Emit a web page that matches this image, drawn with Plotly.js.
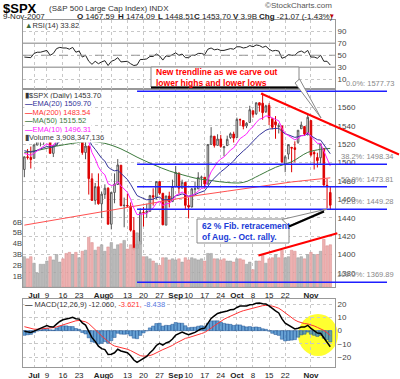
<!DOCTYPE html>
<html>
<head>
<meta charset="utf-8">
<script src="https://cdn.plot.ly/plotly-3.0.1.min.js"></script>
<style>
html,body{margin:0;padding:0;background:#fff;overflow:hidden;}
#chart{width:400px;height:379px;}
</style>
</head>
<body>
<div id="chart"></div>
<script>
// ---------------- DATA ----------------
const dates = [
'2007-06-27','2007-06-28','2007-06-29',
'2007-07-02','2007-07-03','2007-07-05','2007-07-06','2007-07-09','2007-07-10','2007-07-11','2007-07-12','2007-07-13','2007-07-16','2007-07-17','2007-07-18','2007-07-19','2007-07-20','2007-07-23','2007-07-24','2007-07-25','2007-07-26','2007-07-27','2007-07-30','2007-07-31',
'2007-08-01','2007-08-02','2007-08-03','2007-08-06','2007-08-07','2007-08-08','2007-08-09','2007-08-10','2007-08-13','2007-08-14','2007-08-15','2007-08-16','2007-08-17','2007-08-20','2007-08-21','2007-08-22','2007-08-23','2007-08-24','2007-08-27','2007-08-28','2007-08-29','2007-08-30','2007-08-31',
'2007-09-04','2007-09-05','2007-09-06','2007-09-07','2007-09-10','2007-09-11','2007-09-12','2007-09-13','2007-09-14','2007-09-17','2007-09-18','2007-09-19','2007-09-20','2007-09-21','2007-09-24','2007-09-25','2007-09-26','2007-09-27','2007-09-28',
'2007-10-01','2007-10-02','2007-10-03','2007-10-04','2007-10-05','2007-10-08','2007-10-09','2007-10-10','2007-10-11','2007-10-12','2007-10-15','2007-10-16','2007-10-17','2007-10-18','2007-10-19','2007-10-22','2007-10-23','2007-10-24','2007-10-25','2007-10-26','2007-10-29','2007-10-30','2007-10-31',
'2007-11-01','2007-11-02','2007-11-05','2007-11-06','2007-11-07','2007-11-08','2007-11-09'];

const open = [1492.6,1506.3,1505.7,
1504.7,1519.1,1524.9,1524.9,1530.4,1531.9,1510.1,1518.7,1547.7,1552.5,1549.5,1549.2,1546.1,1553.2,1534.1,1541.6,1511.0,1518.1,1482.4,1458.9,1473.9,
1455.2,1465.5,1472.2,1433.0,1467.6,1476.2,1497.2,1453.1,1453.4,1452.8,1426.2,1406.6,1411.3,1445.9,1445.6,1447.0,1464.1,1462.3,1479.4,1466.7,1432.0,1463.7,1457.6,
1474.0,1488.8,1472.3,1478.6,1453.5,1451.7,1471.1,1471.5,1483.9,1484.2,1476.6,1519.8,1528.7,1518.8,1525.8,1516.3,1518.6,1527.3,1531.2,
1527.3,1546.9,1545.8,1539.9,1543.8,1556.5,1553.2,1565.2,1564.7,1555.4,1562.3,1547.8,1544.4,1539.3,1540.0,1497.8,1509.3,1516.6,1516.2,1522.2,1536.9,1539.4,1532.2,
1545.8,1511.0,1505.6,1505.3,1515.5,1475.3,1467.59];

const high = [1506.8,1514.8,1517.5,
1519.5,1526.0,1526.6,1530.9,1534.3,1531.9,1519.3,1547.9,1555.1,1555.9,1555.2,1549.2,1555.9,1553.2,1547.2,1541.6,1524.3,1518.1,1488.5,1477.9,1488.3,
1468.4,1476.4,1473.2,1467.7,1488.3,1503.9,1497.2,1462.0,1466.3,1456.7,1440.8,1415.9,1450.3,1451.8,1455.3,1464.9,1472.1,1479.4,1479.4,1466.7,1463.8,1468.4,1481.5,
1496.4,1488.8,1481.5,1478.6,1462.0,1472.5,1479.5,1489.6,1485.9,1484.2,1519.9,1538.7,1529.1,1530.9,1530.2,1518.3,1529.4,1532.9,1533.7,
1549.0,1548.0,1545.8,1544.0,1561.9,1556.5,1565.3,1565.4,1576.1,1563.0,1564.7,1547.8,1550.7,1542.8,1540.0,1508.1,1520.0,1517.2,1523.2,1535.5,1544.7,1539.4,1552.8,
1545.8,1513.2,1510.8,1520.8,1515.5,1482.5,1474.09];

const low = [1484.2,1503.4,1493.6,
1504.7,1519.1,1517.7,1519.5,1527.5,1510.0,1506.1,1518.7,1544.9,1546.7,1547.5,1533.7,1546.1,1529.2,1534.1,1508.6,1503.7,1465.3,1458.9,1454.3,1454.3,
1439.6,1460.6,1432.8,1427.4,1455.8,1476.2,1453.0,1429.7,1451.5,1425.0,1404.4,1370.6,1411.3,1430.5,1439.8,1447.0,1453.3,1460.0,1465.0,1432.0,1432.0,1451.3,1457.6,
1474.0,1466.3,1472.3,1449.1,1439.3,1451.7,1465.8,1471.5,1473.2,1471.8,1476.6,1519.8,1516.4,1518.8,1516.2,1507.1,1518.6,1525.8,1521.9,
1527.3,1540.4,1536.3,1537.6,1543.8,1549.0,1551.8,1555.5,1546.7,1554.1,1540.8,1536.3,1526.0,1531.8,1500.3,1489.6,1503.6,1489.6,1500.5,1520.5,1536.9,1529.1,1529.4,
1506.7,1492.5,1494.8,1499.1,1475.0,1450.3,1448.51];

const close = [1506.34,1505.71,1503.35,
1519.43,1524.87,1525.40,1530.44,1531.85,1510.12,1518.76,1547.70,1552.50,1549.52,1549.37,1546.17,1553.08,1534.10,1541.57,1511.04,1518.09,1482.66,1458.95,1473.91,1455.27,
1465.81,1472.20,1433.06,1467.67,1476.71,1497.49,1453.09,1453.64,1452.92,1426.54,1406.70,1411.27,1445.94,1445.55,1447.12,1464.07,1462.50,1479.37,1466.79,1432.36,1463.76,1457.64,1473.99,
1489.42,1472.29,1478.55,1453.55,1451.70,1471.49,1471.56,1483.95,1484.25,1476.65,1519.78,1529.03,1518.75,1525.75,1517.73,1517.21,1525.42,1531.38,1526.75,
1547.04,1546.63,1539.59,1542.84,1557.59,1552.58,1565.15,1562.47,1554.41,1561.80,1548.71,1538.53,1541.24,1540.08,1500.63,1506.33,1519.59,1515.88,1514.40,1535.28,1540.98,1531.02,1549.38,
1508.44,1509.65,1502.17,1520.27,1475.62,1474.77,1453.70];

// volume in billions
const volume = [2.8,2.6,2.8,
2.2,1.3,2.1,2.1,2.4,2.8,2.5,3.0,2.3,2.6,3.1,3.2,3.0,3.2,2.7,3.3,3.4,4.6,4.1,3.4,3.7,
3.9,3.3,3.7,4.1,3.5,3.9,4.0,4.3,3.5,3.9,3.6,5.0,4.2,2.8,2.8,2.6,2.4,2.2,2.0,2.7,2.7,2.5,2.6,
2.5,2.6,2.3,2.7,2.5,2.7,2.6,2.5,2.6,2.4,3.1,3.1,2.6,2.6,2.5,2.6,2.4,2.4,2.3,
2.6,2.6,2.5,2.1,2.3,1.6,2.4,2.4,3.0,2.2,2.6,2.7,3.0,2.7,3.4,2.7,2.8,3.4,3.3,2.7,2.8,2.6,3.0,
3.2,3.0,3.0,3.3,4.4,3.8,3.9];

const ema20 = [1513.0,1512.3,1511.5,
1512.2,1513.4,1514.6,1516.1,1517.6,1516.9,1517.1,1520.0,1523.1,1525.6,1527.9,1529.6,1531.8,1532.0,1532.9,1530.8,1529.6,1525.1,1518.8,1514.5,1508.9,
1504.8,1501.7,1495.2,1492.6,1491.1,1491.7,1488.0,1484.7,1481.7,1476.4,1469.8,1464.2,1462.5,1460.9,1459.6,1460.0,1460.2,1462.0,1462.5,1459.6,1460.0,1459.8,1461.2,
1463.9,1464.7,1466.0,1464.8,1463.6,1464.4,1465.1,1466.9,1468.6,1469.4,1474.2,1479.4,1483.1,1487.2,1490.1,1492.7,1495.8,1499.2,1501.8,
1506.1,1510.0,1512.8,1515.7,1519.7,1522.8,1526.8,1530.2,1532.5,1535.3,1536.6,1536.8,1537.2,1537.5,1534.0,1531.4,1530.3,1528.9,1527.5,1528.2,1529.4,1529.6,1531.5,
1529.3,1527.4,1525.0,1524.5,1519.8,1515.5,1509.7];

const ema10 = [1510.0,1509.2,1508.1,
1510.2,1512.9,1515.2,1518.0,1520.5,1518.6,1518.6,1523.9,1529.1,1532.8,1535.8,1537.7,1540.5,1539.3,1539.7,1534.5,1531.5,1522.6,1511.0,1504.3,1495.4,
1490.0,1486.8,1477.0,1475.3,1475.6,1479.6,1474.8,1471.0,1467.7,1460.2,1450.5,1443.4,1443.9,1444.2,1444.7,1448.2,1450.8,1456.0,1458.0,1453.3,1455.2,1455.6,1458.9,
1464.4,1465.8,1468.1,1465.5,1463.0,1464.5,1465.8,1469.1,1471.9,1472.8,1481.3,1490.0,1495.2,1500.8,1503.9,1506.3,1509.8,1513.7,1516.1,
1521.7,1526.2,1528.6,1531.2,1536.0,1539.0,1543.8,1547.2,1548.5,1550.9,1550.5,1548.3,1547.0,1545.7,1537.5,1531.8,1529.6,1527.1,1524.8,1526.7,1529.3,1529.6,1533.2,
1528.7,1525.2,1521.0,1520.9,1512.7,1505.8,1496.3];

const ma50Dates = ['2007-06-27','2007-07-05','2007-07-12','2007-07-19','2007-07-26','2007-08-02','2007-08-09','2007-08-16','2007-08-23','2007-08-30','2007-09-06','2007-09-12','2007-09-19','2007-09-26','2007-10-03','2007-10-10','2007-10-17','2007-10-24','2007-10-31','2007-11-06','2007-11-09'];
const ma50 = [1511,1514,1518,1521,1523,1521,1515,1506,1498,1491,1486.9,1483.2,1480.6,1478.4,1478.5,1486.3,1494.9,1500.9,1511.2,1514.5,1515.5];

const ma200Dates = ['2007-06-27','2007-07-17','2007-07-31','2007-08-14','2007-08-28','2007-09-12','2007-09-26','2007-10-10','2007-10-24','2007-11-09'];
const ma200 = [1432,1440,1446,1452,1458,1464,1469,1474,1479,1483.5];

const rsi = [47,47,46,
53,55,55,57,58,50,53,61,63,62,62,60,63,55,57,47,50,40,35,40,36,
39,41,33,40,42,46,39,40,40,36,33,34,43,43,44,48,48,52,49,42,49,48,51,
54,50,52,46,46,50,50,53,53,51,60,62,59,60,58,58,60,61,60,
64,64,62,63,66,64,67,66,63,65,60,57,58,57,45,47,51,50,50,55,57,54,58,
47,47,45,50,40,40,33.8];

const macd = [-0.50,-0.85,-1.29,
-0.36,0.83,1.78,2.92,3.89,2.87,2.72,4.88,6.90,8.17,9.06,9.40,10.11,9.03,8.68,5.88,4.17,-0.04,-5.23,-8.04,-11.64,
-13.48,-14.26,-17.84,-17.67,-16.62,-13.95,-15.24,-16.04,-16.54,-18.85,-22.02,-23.89,-22.32,-20.86,-19.36,-16.61,-14.39,-11.14,-9.47,-10.80,-9.22,-8.36,-6.29,
-3.37,-2.40,-1.12,-2.09,-2.99,-2.07,-1.32,0.26,1.53,1.90,5.61,9.19,11.07,12.97,13.68,14.03,14.80,15.72,15.88,
17.45,18.45,18.45,18.52,19.52,19.69,20.60,20.86,20.20,20.03,18.62,16.49,14.85,13.31,8.80,5.62,4.13,2.62,1.29,1.89,2.80,2.68,4.02,
1.76,0.07,-1.85,-1.90,-5.47,-8.27,-12.06];

const signal = [3.00,2.23,1.53,
1.15,1.09,1.23,1.57,2.03,2.20,2.30,2.82,3.64,4.55,5.45,6.24,7.01,7.41,7.66,7.30,6.67,5.33,3.22,0.97,-1.55,
-3.94,-6.00,-8.37,-10.23,-11.51,-12.00,-12.65,-13.33,-13.97,-14.95,-16.36,-17.87,-18.76,-19.18,-19.22,-18.70,-17.84,-16.50,-15.09,-14.23,-13.23,-12.26,-11.07,
-9.53,-8.10,-6.70,-5.78,-5.22,-4.59,-3.94,-3.10,-2.17,-1.36,0.03,1.86,3.70,5.55,7.18,8.55,9.80,10.98,11.96,
13.06,14.14,15.00,15.70,16.46,17.11,17.81,18.42,18.78,19.03,18.95,18.46,17.74,16.85,15.24,13.32,11.48,9.71,8.03,6.80,6.00,5.34,5.08,
4.42,3.55,2.47,1.60,0.19,-1.50,-3.62];

const hist = [-3.50,-3.08,-2.82,
-1.51,-0.26,0.55,1.35,1.86,0.67,0.42,2.06,3.26,3.62,3.61,3.16,3.10,1.62,1.02,-1.42,-2.50,-5.37,-8.45,-9.01,-10.09,
-9.54,-8.26,-9.47,-7.44,-5.11,-1.95,-2.59,-2.71,-2.57,-3.90,-5.66,-6.02,-3.56,-1.68,-0.14,2.09,3.45,5.36,5.62,3.43,4.01,3.90,4.78,
6.16,5.70,5.58,3.69,2.23,2.52,2.62,3.36,3.70,3.26,5.58,7.33,7.37,7.42,6.50,5.48,5.00,4.74,3.92,
4.39,4.31,3.45,2.82,3.06,2.58,2.79,2.44,1.42,1.00,-0.33,-1.97,-2.89,-3.54,-6.44,-7.70,-7.35,-7.09,-6.74,-4.91,-3.20,-2.66,-1.06,
-2.66,-3.48,-4.32,-3.50,-5.66,-6.77,-8.44];

const tickDates = ['2007-07-02','2007-07-09','2007-07-16','2007-07-23','2007-08-01','2007-08-06','2007-08-13','2007-08-20','2007-08-27','2007-09-04','2007-09-10','2007-09-17','2007-09-24','2007-10-01','2007-10-08','2007-10-15','2007-10-22','2007-11-01'];
const tickText = ['<b>Jul</b>','9','16','23','<b>Aug</b>','6','13','20','27','<b>Sep</b>','10','17','24','<b>Oct</b>','8','15','22','<b>Nov</b>'];

const fibLevels = [1577.73,1498.34,1473.81,1449.28,1369.89];
const fibLabels = ['0.0%: 1577.73','38.2%: 1498.34','50.0%: 1473.81','61.8%: 1449.28','100.0%: 1369.89'];
const fibStartDate = '2007-08-16';

const trendA = ['2007-10-11',1574.5];
const trendB = ['2007-10-31',1552.8];
const volTrendA = ['2007-10-10',2.93];
const volTrendB = ['2007-11-09',4.78];

// ---------------- LAYOUT HELPERS ----------------
const W=400,H=379,ML=23,MR=65,MT=20,MB=12;
const PW=W-ML-MR, PH=H-MT-MB;
const pxX = x => (x-ML)/PW;
const pxY = y => (H-MB-y)/PH;
const X0=-0.42, X1=96.47;
const P0=1364.7, P1=1580.7;
const V1=18.33;
const R0=-5, R1=108.3;
const M0=-27.3, M1=23.8;
const dxPos = p => (p-X0)/(X1-X0);
const dxDate = d => dxPos(dates.indexOf(d));
const dyP = p => (p-P0)/(P1-P0);
const dyV = v => v/V1;
const dyR = r => (r-R0)/(R1-R0);

const FONT='Liberation Sans, Arial, sans-serif';
const GRID='#c8c8c8';

const volColors = close.map((c,k)=> (k>0 && c<close[k-1]) ? 'rgba(236,168,168,0.9)' : 'rgba(178,178,178,0.9)');
const volLines = close.map((c,k)=> (k>0 && c<close[k-1]) ? '#d98c8c' : '#999');

const traces = [
 {type:'bar', x:dates, y:volume, xaxis:'x2', yaxis:'y4', marker:{color:volColors, line:{color:volLines,width:0.5}}, width:0.8},
 {type:'scatter', mode:'lines', x:ma200Dates, y:ma200, xaxis:'x2', yaxis:'y2', line:{color:'#ff5050',width:1}},
 {type:'scatter', mode:'lines', x:ma50Dates, y:ma50, xaxis:'x2', yaxis:'y2', line:{color:'#3d7a3d',width:1, shape:'spline'}},
 {type:'scatter', mode:'lines', x:dates, y:ema20, xaxis:'x2', yaxis:'y2', line:{color:'#333399',width:1}},
 {type:'scatter', mode:'lines', x:dates, y:ema10, xaxis:'x2', yaxis:'y2', line:{color:'#ff22ff',width:1}},
 {type:'candlestick', x:dates, open:open, high:high, low:low, close:close, xaxis:'x2', yaxis:'y2',
   increasing:{line:{color:'#555',width:1}, fillcolor:'#ffffff'},
   decreasing:{line:{color:'#dd0000',width:1}, fillcolor:'#dd0000'}, whiskerwidth:0},
 {type:'scatter', mode:'lines', x:dates, y:rsi, xaxis:'x3', yaxis:'y3', line:{color:'#222',width:1}},
 {type:'bar', x:dates, y:hist, xaxis:'x', yaxis:'y', marker:{color:'rgba(60,135,200,0.78)', line:{color:'rgba(20,70,140,0.9)',width:0.5}}, width:1},
 {type:'scatter', mode:'lines', x:dates, y:signal, xaxis:'x', yaxis:'y', line:{color:'#ff3333',width:1}},
 {type:'scatter', mode:'lines', x:dates, y:macd, xaxis:'x', yaxis:'y', line:{color:'#000',width:1.5}}
];

function xax(anchor, showLabels){
  return {anchor:anchor, domain:[0,1], type:'category', categoryorder:'array', categoryarray:dates,
    range:[X0,X1], tickvals:tickDates, ticktext:tickText, showticklabels:showLabels, ticks:'', tickangle:0,
    tickfont:{size:8,color:'#222',family:FONT}, showgrid:true, gridcolor:GRID, griddash:'dot', gridwidth:1,
    showline:true, mirror:true, linecolor:'#999', linewidth:1, zeroline:false, automargin:false, rangeslider:{visible:false}};
}
function yax(domain, range, vals, extra){
  return Object.assign({domain:domain, range:range, tickvals:vals, side:'right', ticks:'',
    tickfont:{size:8,color:'#444',family:FONT}, showgrid:true, gridcolor:GRID, griddash:'dot', gridwidth:1,
    showline:true, mirror:true, linecolor:'#999', linewidth:1, zeroline:false, automargin:false}, extra||{});
}

const shapes = [];
// yellow highlight circle (MACD)
shapes.push({type:'circle', xref:'paper', yref:'paper', x0:pxX(298), x1:pxX(338), y0:pxY(356), y1:pxY(314), fillcolor:'#ffff30', line:{width:0}, layer:'below'});
// RSI reference lines
[70,30].forEach(r=>shapes.push({type:'line', xref:'x3 domain', yref:'y3 domain', x0:0, x1:1, y0:dyR(r), y1:dyR(r), line:{color:'#aaa',width:1.5}}));
shapes.push({type:'line', xref:'x3 domain', yref:'y3 domain', x0:0, x1:1, y0:dyR(50), y1:dyR(50), line:{color:'#999',width:1,dash:'dash'}});
// Fibonacci lines
fibLevels.forEach(p=>shapes.push({type:'line', xref:'x2 domain', yref:'y2 domain', x0:dxDate(fibStartDate), x1:pxX(387), y0:dyP(p), y1:dyP(p), line:{color:'#1e1eff',width:1.5}}));
// trendlines (price line extended past the plot edge)
(function(){
  const pa=dates.indexOf(trendA[0]), pb=dates.indexOf(trendB[0]);
  const slope=(trendB[1]-trendA[1])/(pb-pa);
  const start=pa-0.5, endDom=pxX(399), endPos=X0+endDom*(X1-X0);
  shapes.push({type:'line', xref:'x2 domain', yref:'y2 domain', x0:dxPos(start), y0:dyP(trendA[1]-0.5*slope), x1:endDom, y1:dyP(trendA[1]+(endPos-pa)*slope), line:{color:'#ff0000',width:2}});
  const va=dates.indexOf(volTrendA[0]), vb=dates.indexOf(volTrendB[0]);
  const vs=(volTrendB[1]-volTrendA[1])/(vb-va);
  const vEnd=vb+2.2;
  shapes.push({type:'line', xref:'x2 domain', yref:'y4 domain', x0:dxPos(va-0.3), y0:dyV(volTrendA[1]-0.3*vs), x1:dxPos(vEnd), y1:dyV(volTrendA[1]+(vEnd-va)*vs), line:{color:'#ff0000',width:2}});
})();
// annotation box 1
shapes.push({type:'rect', xref:'paper', yref:'paper', x0:pxX(151), x1:pxX(299), y0:pxY(87), y1:pxY(67), fillcolor:'#fff', line:{color:'#888',width:1}});
shapes.push({type:'line', xref:'paper', yref:'paper', x0:pxX(151), x1:pxX(300), y0:pxY(87.5), y1:pxY(87.5), line:{color:'#000',width:2}});
shapes.push({type:'path', xref:'paper', yref:'paper', path:`M ${pxX(295)} ${pxY(83)} L ${pxX(321)} ${pxY(118)} L ${pxX(299.5)} ${pxY(79)} Z`, fillcolor:'#fff', line:{color:'#888',width:1}});
// annotation box 2
shapes.push({type:'rect', xref:'paper', yref:'paper', x0:pxX(197), x1:pxX(289), y0:pxY(243), y1:pxY(219), fillcolor:'#fff', line:{color:'#888',width:1}});
shapes.push({type:'path', xref:'paper', yref:'paper', path:`M ${pxX(282)} ${pxY(219.5)} L ${pxX(327)} ${pxY(209)} L ${pxX(289)} ${pxY(226)} Z`, fillcolor:'#fff', line:{color:'#888',width:1}});
shapes.push({type:'line', xref:'paper', yref:'paper', x0:pxX(289), y0:pxY(226.5), x1:pxX(324), y1:pxY(211.5), line:{color:'#000',width:2}});

const ann = [];
function txt(x,y,text,o){
  o=o||{};
  ann.push({xref:'paper', yref:'paper', x:pxX(x), y:pxY(y), text:text, showarrow:false,
    xanchor:o.xanchor||'left', yanchor:o.yanchor||'middle', align:o.align||'left',
    bgcolor:o.bg||'rgba(0,0,0,0)', borderpad:o.pad===undefined?1:o.pad,
    font:{size:o.size||8, color:o.color||'#333', family:o.family||FONT}});
}
// header
txt(1,8,'<b>$SPX</b>',{size:13,color:'#000'});
txt(47,8,'(S&amp;P 500 Large Cap Index) INDX',{size:8,color:'#333'});
txt(334,6,'©StockCharts.com',{size:8,color:'#555',xanchor:'right'});
txt(1,16,'9-Nov-2007',{size:8,color:'#222'});
txt(75,16,'<b>O</b> 1467.59',{size:8,color:'#222'});
txt(116,16,'<b>H</b> 1474.09',{size:8,color:'#222'});
txt(156,16,'<b>L</b> 1448.51',{size:8,color:'#222'});
txt(192,16,'<b>C</b> 1453.70',{size:8,color:'#222'});
txt(231,16,'<b>V</b> 3.9B',{size:8,color:'#222'});
txt(257,16,'<b>Chg</b> -21.07 (-1.43%)',{size:8,color:'#222'});
txt(327,16,'▼',{size:6,color:'#cc0000'});
// RSI label
txt(24,25,'<span style="color:#3a6a3a">▲</span>RSI(14) 33.82',{size:7.5,color:'#333',bg:'#fff',pad:0});
// main legend (white backed, like the source)
const legBg='#fff';
txt(24,95,'▮$SPX (Daily) 1453.70',{size:7.5,color:'#333',bg:legBg,pad:0});
txt(24,103.5,'<b>—</b>EMA(20) 1509.70',{size:7.5,color:'#333399',bg:legBg,pad:0});
txt(24,112,'<b>—</b>MA(200) 1483.54',{size:7.5,color:'#ff3333',bg:legBg,pad:0});
txt(24,120.5,'<b>—</b>MA(50) 1515.52',{size:7.5,color:'#3d7a3d',bg:legBg,pad:0});
txt(24,129,'<b>—</b>EMA(10) 1496.31',{size:7.5,color:'#ff22ff',bg:legBg,pad:0});
txt(24,137.5,'▮Volume 3,908,347,136',{size:7.5,color:'#444',bg:legBg,pad:0});
// MACD label
txt(24,304,'<b>—</b> MACD(12,26,9) -12.060, <span style="color:#ff3333">-3.621,</span> <span style="color:#5577dd">-8.438</span>',{size:7.5,color:'#333',bg:'#fff',pad:0});
// Fib labels
fibLevels.forEach((p,k)=>ann.push({xref:'paper', yref:'y2', x:pxX(396), y:p, yshift:1, text:fibLabels[k], showarrow:false, xanchor:'right', yanchor:'bottom', font:{size:7.5,color:'#888',family:FONT}}));
// annotation texts
txt(154,77,'<b>New trendline as we carve out</b><br><b>lower highs and lower lows</b>',{size:8.5,color:'#ff0000'});
txt(200,231,'<b>62 % Fib. retracement</b><br><b>of Aug. - Oct. rally.</b>',{size:8.5,color:'#1a3cd6'});

const layout = {
  width:W, height:H, margin:{l:ML,r:MR,t:MT,b:MB,pad:0}, paper_bgcolor:'#fff', plot_bgcolor:'rgba(0,0,0,0)',
  showlegend:false, hovermode:false, barmode:'overlay', font:{family:FONT,size:8,color:'#333'},
  xaxis: xax('y', true),
  xaxis2: xax('y2', true),
  xaxis3: xax('y3', false),
  yaxis: yax([0, pxY(299)], [M0,M1], [-20,-10,0,10,20], {anchor:'x'}),
  yaxis2: yax([pxY(287), pxY(88.5)], [P0,P1], [1380,1400,1420,1440,1460,1480,1500,1520,1540,1560], {anchor:'x2'}),
  yaxis3: yax([pxY(88.5), 1], [R0,R1], [10,30,50,70,90], {anchor:'x3'}),
  yaxis4: {overlaying:'y2', anchor:'x2', side:'left', range:[0,V1], tickvals:[1,2,3,4,5,6], ticktext:['1B','2B','3B','4B','5B','6B'],
    showgrid:false, zeroline:false, showline:false, ticks:'', tickfont:{size:7.5,color:'#444',family:FONT}, automargin:false},
  shapes:shapes, annotations:ann
};

Plotly.newPlot('chart', traces, layout, {staticPlot:true, displayModeBar:false});
</script>
</body>
</html>
